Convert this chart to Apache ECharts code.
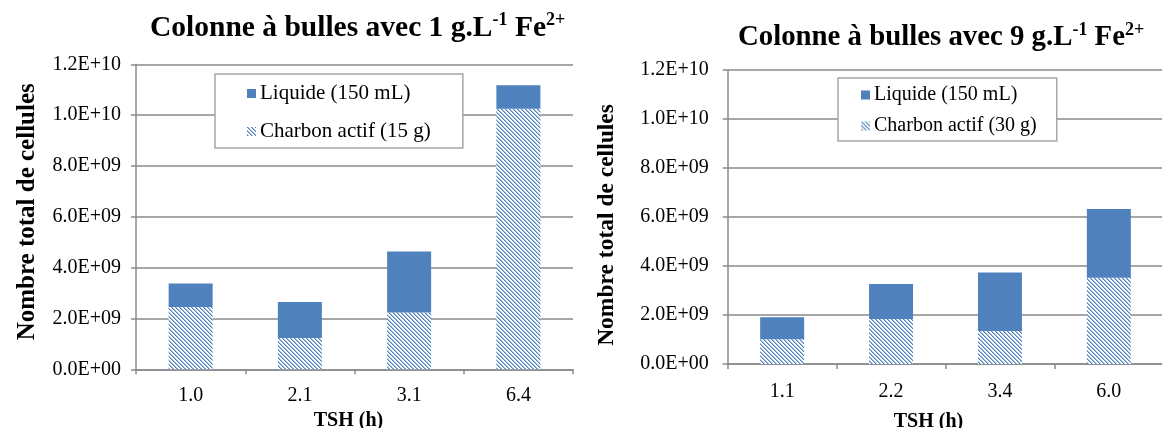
<!DOCTYPE html>
<html>
<head>
<meta charset="utf-8">
<script src="https://cdn.jsdelivr.net/npm/echarts@6/dist/echarts.min.js"></script>
<style>
html,body{margin:0;padding:0;background:#fff;}
#c{width:1162px;height:428px;}
</style>
</head>
<body>
<div id="c"></div>
<script>
// ---- data ----
const categoriesLeft = ['1.0', '2.1', '3.1', '6.4'];
const charbonLeft = [2.45e9, 1.23e9, 2.23e9, 10.25e9];
const liquideLeft = [0.93e9, 1.42e9, 2.40e9, 0.93e9];

const categoriesRight = ['1.1', '2.2', '3.4', '6.0'];
const charbonRight = [1.01e9, 1.84e9, 1.35e9, 3.52e9];
const liquideRight = [0.90e9, 1.43e9, 2.38e9, 2.81e9];

const yTickLabels = ['0.0E+00', '2.0E+09', '4.0E+09', '6.0E+09', '8.0E+09', '1.0E+10', '1.2E+10'];
const yStep = 2e9;

const seriesNameLiquide = 'Liquide (150 mL)';
const seriesNameCharbonLeft = 'Charbon actif (15 g)';
const seriesNameCharbonRight = 'Charbon actif (30 g)';

// ---- styles ----
const BLUE = '#4F81BD';
const GRID = '#8a8a8a';
const FONT = '"Liberation Serif", "Times New Roman", serif';

function makePattern() {
  const s = 4;
  const cv = document.createElement('canvas');
  cv.width = s; cv.height = s;
  const ctx = cv.getContext('2d');
  ctx.fillStyle = '#ffffff';
  ctx.fillRect(0, 0, s, s);
  const img = ctx.getImageData(0, 0, s, s);
  const full = [0x4F, 0x81, 0xBD];
  const half = [0x9E, 0xBA, 0xDD];
  for (let y = 0; y < s; y++) {
    for (let x = 0; x < s; x++) {
      const m = ((x - y) % s + s) % s;
      let c = null;
      if (m === 0) c = full; else if (m === 1) c = half;
      if (c) {
        const i = (y * s + x) * 4;
        img.data[i] = c[0]; img.data[i + 1] = c[1]; img.data[i + 2] = c[2]; img.data[i + 3] = 255;
      }
    }
  }
  ctx.putImageData(img, 0, 0);
  return { image: cv, repeat: 'repeat' };
}
const pattern = makePattern();

const chart = echarts.init(document.getElementById('c'), null, { renderer: 'canvas' });

function xAxis(gridIndex, cats, nameOffset, labelMargin, namePad) {
  return {
    type: 'category', gridIndex, data: cats,
    axisLine: { show: true, lineStyle: { color: GRID, width: 1.5 } },
    axisTick: { show: true, length: 5, inside: false, lineStyle: { color: GRID, width: 1.5 } },
    axisLabel: { color: '#000', fontFamily: FONT, fontSize: 20, margin: labelMargin },
    name: 'TSH (h)', nameLocation: 'middle', nameGap: nameOffset,
    nameTextStyle: { color: '#000', fontFamily: FONT, fontSize: 20, fontWeight: 'bold', padding: namePad }
  };
}
function yAxis(gridIndex, nameGap, labelMargin, namePad, nameSize) {
  return {
    type: 'value', gridIndex, min: 0, max: 1.2e10, interval: yStep,
    axisLine: { show: true, lineStyle: { color: GRID, width: 1.5 } },
    axisTick: { show: true, length: 5, lineStyle: { color: GRID, width: 1.5 } },
    splitLine: { show: true, lineStyle: { color: GRID, width: 1.5 } },
    axisLabel: {
      color: '#000', fontFamily: FONT, fontSize: 20, margin: labelMargin,
      formatter: v => yTickLabels[Math.round(v / yStep)]
    },
    name: 'Nombre total de cellules', nameLocation: 'middle', nameGap: nameGap,
    nameTextStyle: { color: '#000', fontFamily: FONT, fontSize: nameSize, fontWeight: 'bold', padding: namePad }
  };
}
function titleObj(text, left, top, size) {
  return {
    text, left, top, padding: 0,
    textStyle: {
      rich: {
        t: { fontFamily: FONT, fontSize: size, fontWeight: 'bold', color: '#000', lineHeight: 34 },
        s: { fontFamily: FONT, fontSize: 18, fontWeight: 'bold', color: '#000', lineHeight: 20, verticalAlign: 'top' }
      }
    }
  };
}
function legendObj(left, top, names, padding, itemGap, size) {
  return {
    left, top, orient: 'vertical', align: 'left',
    data: names, itemWidth: 9, itemHeight: 9, icon: 'rect', itemGap,
    borderColor: '#a6a6a6', borderWidth: 1.5, padding, backgroundColor: '#fff',
    textStyle: { fontFamily: FONT, fontSize: size, color: '#000', padding: [0, 0, 0, -1] }
  };
}

chart.setOption({
  animation: false,
  backgroundColor: '#fff',
  title: [
    titleObj('{t|Colonne à bulles avec 1 g.L}{s|-1}{t| Fe}{s|2+}', 150, 11, 29.5),
    titleObj('{t|Colonne à bulles avec 9 g.L}{s|-1}{t| Fe}{s|2+}', 738, 21, 28.8)
  ],
  legend: [
    legendObj(215, 74, [seriesNameLiquide, seriesNameCharbonLeft], [9, 32, 6, 32], 17, 21),
    legendObj(838, 78, [seriesNameLiquide, seriesNameCharbonRight], [7, 20, 5, 23], 11, 20)
  ],
  grid: [
    { left: 136, top: 64.3, width: 437, height: 305, containLabel: false, outerBoundsMode: 'none' },
    { left: 727.7, top: 70, width: 435.6, height: 294, containLabel: false, outerBoundsMode: 'none' }
  ],
  xAxis: [xAxis(0, categoriesLeft, 42, 16, [0, 12, 0, 0]), xAxis(1, categoriesRight, 48, 18, [0, 34, 0, 0])],
  yAxis: [yAxis(0, 96, 15, [0, 0, 0, 10], 25), yAxis(1, 109, 19, [0, 16, 0, 0], 23.5)],
  series: [
    { name: seriesNameCharbonLeft, type: 'bar', stack: 'L', xAxisIndex: 0, yAxisIndex: 0, barWidth: 44,
      data: charbonLeft, itemStyle: { color: pattern } },
    { name: seriesNameLiquide, type: 'bar', stack: 'L', xAxisIndex: 0, yAxisIndex: 0, barWidth: 44,
      data: liquideLeft, itemStyle: { color: BLUE } },
    { name: seriesNameCharbonRight, type: 'bar', stack: 'R', xAxisIndex: 1, yAxisIndex: 1, barWidth: 44,
      data: charbonRight, itemStyle: { color: pattern } },
    { name: seriesNameLiquide, type: 'bar', stack: 'R', xAxisIndex: 1, yAxisIndex: 1, barWidth: 44,
      data: liquideRight, itemStyle: { color: BLUE } }
  ]
});
</script>
</body>
</html>
